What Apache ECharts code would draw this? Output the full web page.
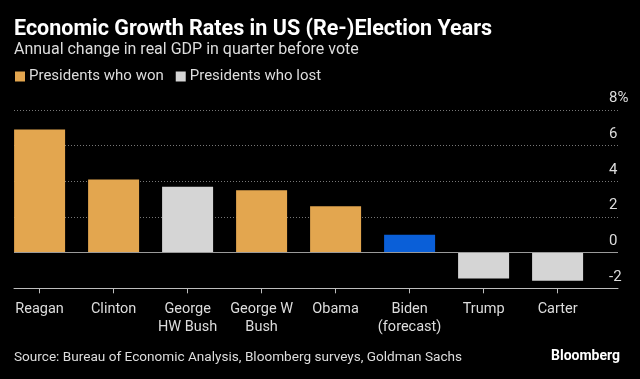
<!DOCTYPE html>
<html>
<head>
<meta charset="utf-8">
<script src="https://cdn.jsdelivr.net/npm/echarts@6/dist/echarts.min.js"></script>
<style>
html,body{margin:0;padding:0;background:#000;}
#c{width:640px;height:379px;}
</style>
</head>
<body>
<div id="c"></div>
<script>
const categories = ['Reagan', 'Clinton', 'George\nHW Bush', 'George W\nBush', 'Obama', 'Biden\n(forecast)', 'Trump', 'Carter'];
const wonValues = [6.9, 4.1, '-', 3.5, 2.6, '-', '-', '-'];
const lostValues = ['-', '-', 3.7, '-', '-', '-', -1.45, -1.57];
const forecastValues = ['-', '-', '-', '-', '-', 1.0, '-', '-'];
const yTicks = { min: -2, max: 8, interval: 2 };

const FONT = 'Roboto, "Noto Sans", sans-serif';
const chart = echarts.init(document.getElementById('c'), null, { renderer: 'canvas' });

chart.setOption({
  backgroundColor: '#000',
  animation: false,
  textStyle: { fontFamily: FONT },
  title: [
    { text: 'Economic Growth Rates in US (Re-)Election Years', left: 14, top: 19, padding: 0,
      textStyle: { color: '#fff', fontSize: 21.5, fontWeight: 'bold', fontFamily: FONT } },
    { text: 'Annual change in real GDP in quarter before vote', left: 14, top: 42, padding: 0,
      textStyle: { color: '#ddd', fontSize: 16, fontWeight: 'normal', fontFamily: FONT } },
    { text: 'Source: Bureau of Economic Analysis, Bloomberg surveys, Goldman Sachs', left: 14, top: 351, padding: 0,
      textStyle: { color: '#ddd', fontSize: 13.6, fontWeight: 'normal', fontFamily: FONT } },
    { text: 'Bloomberg', right: 20, top: 349, padding: 0,
      textStyle: { color: '#fff', fontSize: 14, fontWeight: 'bold', fontFamily: FONT } }
  ],
  legend: {
    data: ['Presidents who won', 'Presidents who lost'],
    left: 15, top: 69, padding: 0, itemGap: 12,
    icon: 'rect', itemWidth: 10, itemHeight: 10,
    textStyle: { color: '#ddd', fontSize: 15, fontFamily: FONT, padding: [0, 0, 0, -1] },
    selectedMode: false
  },
  grid: [
    { left: 14, right: 22, top: 110, height: 178.3 },
    { left: 2.6, width: 592, top: 110, height: 178.3 }
  ],
  xAxis: [
    { type: 'category', gridIndex: 0, data: [''],
      axisLine: { show: true, onZero: false, lineStyle: { color: '#bdbdbd', width: 1 } },
      axisTick: { show: false }, axisLabel: { show: false }, splitLine: { show: false } },
    { type: 'category', gridIndex: 1, data: categories,
      axisLine: { show: false, onZero: false },
      axisTick: { show: true, alignWithLabel: true, length: 5, lineStyle: { color: '#bdbdbd' } },
      axisLabel: { color: '#ddd', fontSize: 14.5, lineHeight: 18, margin: 12, interval: 0, fontFamily: FONT } }
  ],
  yAxis: [
    { type: 'value', gridIndex: 0, position: 'right', min: yTicks.min, max: yTicks.max, interval: yTicks.interval,
      axisLine: { show: false }, axisTick: { show: false },
      axisLabel: { color: '#ddd', fontSize: 15, margin: -9, align: 'left', verticalAlign: 'bottom',
        padding: [0, 0, 4, 0], fontFamily: FONT,
        formatter: v => v === yTicks.max ? v + '%' : String(v) },
      splitLine: { show: true, lineStyle: { color: '#777', type: [1, 2], width: 1 } } },
    { type: 'value', gridIndex: 1, min: yTicks.min, max: yTicks.max, interval: yTicks.interval, show: false,
      splitLine: { show: false } }
  ],
  series: [
    { type: 'line', xAxisIndex: 0, yAxisIndex: 0, data: [], silent: true,
      markLine: { silent: true, symbol: 'none', label: { show: false },
        lineStyle: { color: '#9a9a9a', type: 'solid', width: 1 },
        data: [{ yAxis: 0 }] } },
    { name: 'Presidents who won', type: 'bar', xAxisIndex: 1, yAxisIndex: 1, stack: 'all',
      barWidth: 51, data: wonValues, itemStyle: { color: '#E3A64F' } },
    { name: 'Presidents who lost', type: 'bar', xAxisIndex: 1, yAxisIndex: 1, stack: 'all',
      barWidth: 51, data: lostValues, itemStyle: { color: '#D5D5D5' } },
    { name: 'Forecast', type: 'bar', xAxisIndex: 1, yAxisIndex: 1, stack: 'all',
      barWidth: 51, data: forecastValues, itemStyle: { color: '#0A5FD8' } }
  ]
});
</script>
</body>
</html>
